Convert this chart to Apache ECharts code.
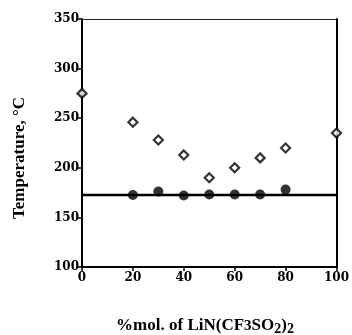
<!DOCTYPE html>
<html><head><meta charset="utf-8">
<script src="https://cdn.jsdelivr.net/npm/echarts@6/dist/echarts.min.js"></script>
<style>html,body{margin:0;padding:0;background:#fff}#c{width:352px;height:335px}</style>
</head><body><div id="c"></div>
<script>
const openX = [0, 20, 30, 40, 50, 60, 70, 80, 100];
const openY = [275, 246, 228, 213, 190, 200, 210, 220, 235];
const filledX = [20, 30, 40, 50, 60, 70, 80];
const filledY = [172.5, 176, 172, 173, 173, 173, 178];
const lineX = [0, 100];
const lineY = [172.5, 172.5];
const xTicks = [0, 20, 40, 60, 80, 100];
const yTicks = [100, 150, 200, 250, 300, 350];

const tickFont = 'DejaVu Serif';
const chart = echarts.init(document.getElementById('c'));
chart.setOption({
  animation: false,
  grid: {left: 82, right: 12, top: 19, bottom: 68, containLabel: false},
  xAxis: [{
    type: 'value', min: 0, max: 100, interval: 20,
    axisLine: {onZero: false, lineStyle: {color: '#000', width: 2}},
    axisTick: {show: true, inside: false, length: 4, lineStyle: {color: '#000', width: 1.5}},
    axisLabel: {color: '#000', fontFamily: tickFont, fontWeight: 'bold', fontSize: 12, margin: 5,
      formatter: v => xTicks.includes(v) ? String(v) : ''},
    splitLine: {show: false}
  }, {
    type: 'value', min: 0, max: 100, position: 'top',
    axisLine: {show: true, onZero: false, lineStyle: {color: '#222', width: 1.2}},
    axisTick: {show: false}, axisLabel: {show: false}, splitLine: {show: false}
  }],
  yAxis: [{
    type: 'value', min: 100, max: 350, interval: 50,
    axisLine: {show: true, onZero: false, lineStyle: {color: '#000', width: 2}},
    axisTick: {show: true, inside: false, length: 5, lineStyle: {color: '#000', width: 1.5}},
    axisLabel: {color: '#000', fontFamily: tickFont, fontWeight: 'bold', fontSize: 12, margin: 3,
      formatter: v => yTicks.includes(v) ? String(v) : ''},
    splitLine: {show: false}
  }, {
    type: 'value', min: 100, max: 350, interval: 50, position: 'right',
    axisLine: {show: true, onZero: false, lineStyle: {color: '#000', width: 2}},
    axisTick: {show: false}, axisLabel: {show: false}, splitLine: {show: false}
  }],
  graphic: [{
    type: 'text', left: 11, top: 97, rotation: Math.PI / 2,
    style: {text: 'Temperature, °C', fill: '#000', font: 'bold 17px "Liberation Serif"'}
  }, {
    type: 'text',
    x: 205, y: 326,
    style: {
      text: '{n|%mol. of LiN(CF}{s|3}{n|SO}{b|2}{n|)}{b|2}',
      align: 'center', verticalAlign: 'middle',
      rich: {
        n: {fill: '#000', font: 'bold 17px "Liberation Serif"'},
        s: {fill: '#000', font: 'bold 15px "Liberation Serif"'},
        b: {fill: '#000', font: 'bold 14px "Liberation Serif"', padding: [6, 0, 0, 0]}
      }
    }
  }],
  series: [{
    type: 'line', data: lineX.map((x, i) => [x, lineY[i]]),
    symbol: 'none', lineStyle: {color: '#000', width: 2.5}, z: 1
  }, {
    type: 'scatter', data: filledX.map((x, i) => [x, filledY[i]]),
    symbol: 'circle', symbolSize: 10, itemStyle: {color: '#000'}, z: 3
  }, {
    type: 'scatter', data: openX.map((x, i) => [x, openY[i]]),
    symbol: 'diamond', symbolSize: [9, 9],
    itemStyle: {color: '#fff', borderColor: '#000', borderWidth: 2.2}, z: 4
  }]
});
</script></body></html>
